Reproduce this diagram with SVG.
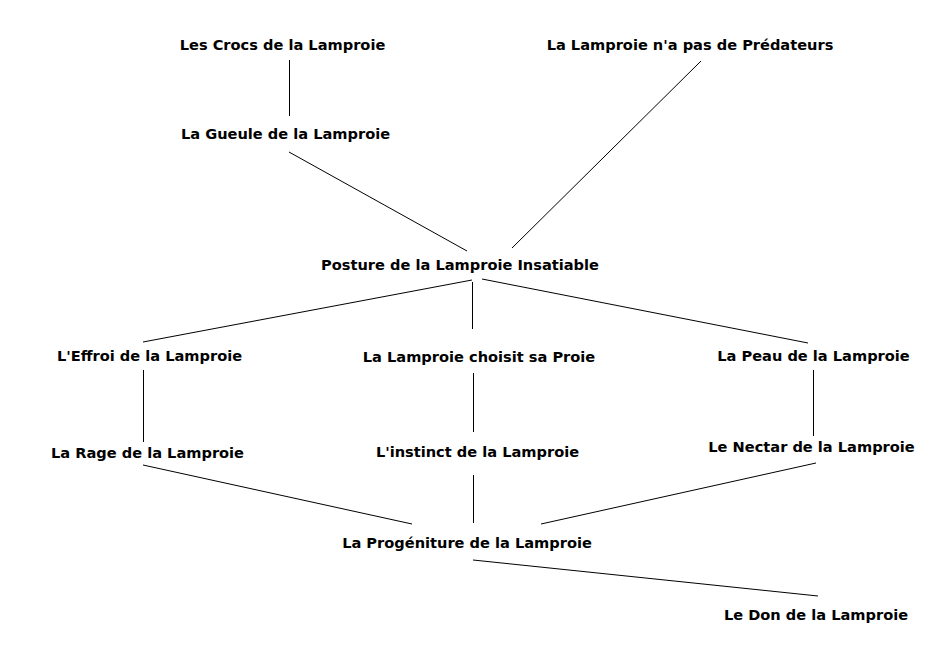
<svg xmlns="http://www.w3.org/2000/svg" width="951" height="652" viewBox="0 0 951 652">
<style>
text{font-family:"DejaVu Sans",sans-serif;font-weight:bold;font-size:14.6px;text-anchor:middle;fill:#000}
line{stroke:#000;stroke-width:1}
</style>
<rect width="951" height="652" fill="#fff"/>
<g id="connectors">
<line x1="289.5" y1="60" x2="289.5" y2="116"/>
<line x1="289" y1="152" x2="467" y2="251"/>
<line x1="701" y1="61" x2="512" y2="248"/>
<line x1="472" y1="280" x2="143" y2="342"/>
<line x1="472.5" y1="282" x2="472.5" y2="329"/>
<line x1="482" y1="279" x2="808" y2="343"/>
<line x1="143.5" y1="370" x2="143.5" y2="442"/>
<line x1="473.5" y1="373" x2="473.5" y2="432"/>
<line x1="813.5" y1="370" x2="813.5" y2="436"/>
<line x1="143" y1="465" x2="412" y2="524"/>
<line x1="473.5" y1="475" x2="473.5" y2="523"/>
<line x1="816" y1="463" x2="541" y2="524"/>
<line x1="473" y1="560" x2="818" y2="596"/>
</g>
<g id="crocs"><text x="282.5" y="50">Les Crocs de la Lamproie</text></g>
<g id="gueule"><text x="285.5" y="139">La Gueule de la Lamproie</text></g>
<g id="predateurs"><text x="690" y="50">La Lamproie n'a pas de Prédateurs</text></g>
<g id="posture"><text x="460" y="270">Posture de la Lamproie Insatiable</text></g>
<g id="effroi"><text x="149.5" y="361">L'Effroi de la Lamproie</text></g>
<g id="choisit"><text x="479" y="362">La Lamproie choisit sa Proie</text></g>
<g id="peau"><text x="813.5" y="361">La Peau de la Lamproie</text></g>
<g id="rage"><text x="147.5" y="458">La Rage de la Lamproie</text></g>
<g id="instinct"><text x="477.5" y="457">L'instinct de la Lamproie</text></g>
<g id="nectar"><text x="811.5" y="452">Le Nectar de la Lamproie</text></g>
<g id="progeniture"><text x="467" y="548">La Progéniture de la Lamproie</text></g>
<g id="don"><text x="816" y="620">Le Don de la Lamproie</text></g>
</svg>
